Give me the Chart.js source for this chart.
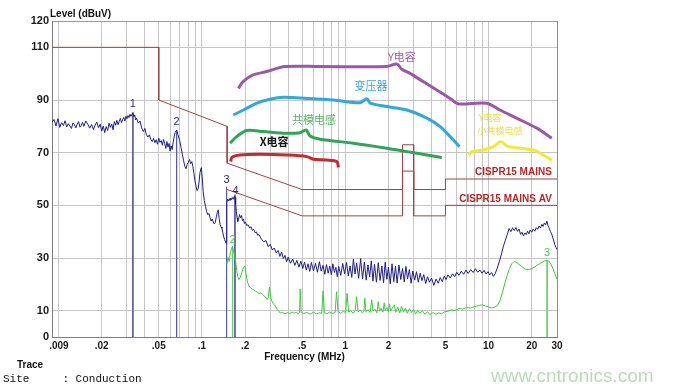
<!DOCTYPE html>
<html>
<head>
<meta charset="utf-8">
<script src="https://cdn.jsdelivr.net/npm/chart.js@4/dist/chart.umd.min.js"></script>
<style>
  html, body { margin: 0; padding: 0; background: #fff; }
</style>
</head>
<body>
<canvas id="emi" width="675" height="391"></canvas>
<script>
/* EMI conducted scan: peak / average traces, CISPR15 limits, hand-drawn notes */

// axis ticks
const gridFreqs = [0.009, 0.01, 0.02, 0.03, 0.04, 0.05, 0.06, 0.07, 0.08, 0.09,
  0.1, 0.2, 0.3, 0.4, 0.5, 0.6, 0.7, 0.8, 0.9, 1, 2, 3, 4, 5, 6, 7, 8, 9, 10, 20, 30];
const freqLabelValues = [0.009, 0.02, 0.05, 0.1, 0.2, 0.5, 1, 2, 5, 10, 20, 30];
const freqLabelTexts = ['     .009', '.02', '.05', '.1', '.2', '.5', '1', '2', '5', '10', '20', '30'];
const levelTicks = [0, 10, 30, 50, 70, 90, 110, 120];

// limit lines [MHz, dBuV]
const limitQP = [[0.009, 110], [0.05, 110], [0.05, 90], [0.15, 80], [0.15, 66], [0.5, 56],
  [2.51, 56], [2.51, 73], [3.0, 73], [3.0, 56], [5, 56], [5, 60], [30, 60]];
const limitAV = [[0.15, 56], [0.5, 46], [2.51, 46], [2.51, 63], [3.0, 63], [3.0, 46],
  [5, 46], [5, 50], [30, 50]];

// peak trace (blue)
const peakTrace = [
  [0.0090, 81.5], [0.0093, 82.6], [0.0096, 80.2], [0.0099, 82.9], [0.0102, 79.6], [0.0105, 81.4],
  [0.0108, 80.3], [0.0111, 82.1], [0.0114, 79.8], [0.0117, 81.0], [0.0120, 80.1], [0.0123, 79.2],
  [0.0126, 81.3], [0.0129, 80.6], [0.0132, 79.4], [0.0135, 80.9], [0.0138, 81.8], [0.0141, 79.7],
  [0.0144, 80.4], [0.0147, 81.5], [0.0150, 80.0], [0.0155, 82.0], [0.0160, 80.8], [0.0165, 79.3],
  [0.0170, 80.7], [0.0175, 78.8], [0.0180, 80.5], [0.0185, 81.6], [0.0190, 79.5], [0.0195, 80.8],
  [0.0200, 78.2], [0.0205, 80.1], [0.0210, 77.6], [0.0215, 79.9], [0.0220, 78.4], [0.0225, 81.2],
  [0.0230, 79.6], [0.0235, 80.9], [0.0240, 78.7], [0.0245, 81.8], [0.0250, 80.4], [0.0255, 82.3],
  [0.0260, 80.6], [0.0265, 81.9], [0.0270, 83.0], [0.0275, 81.4], [0.0280, 82.6], [0.0285, 83.4],
  [0.0290, 82.0], [0.0295, 83.8], [0.0300, 82.9], [0.0305, 84.1], [0.0310, 83.3], [0.0315, 84.6],
  [0.0320, 83.8], [0.0325, 84.5], [0.0330, 85.2], [0.0335, 83.6], [0.0340, 84.3], [0.0345, 82.4],
  [0.0350, 83.1], [0.0360, 81.2], [0.0370, 82.0], [0.0380, 79.4], [0.0390, 78.0], [0.0400, 79.2],
  [0.0410, 76.8], [0.0420, 75.9], [0.0430, 76.8], [0.0440, 75.1], [0.0450, 74.2], [0.0460, 75.4],
  [0.0470, 73.8], [0.0480, 74.9], [0.0490, 73.2], [0.0500, 75.5], [0.0510, 73.9], [0.0520, 74.6],
  [0.0530, 72.8], [0.0540, 75.0], [0.0550, 73.4], [0.0560, 71.6], [0.0570, 74.2], [0.0580, 72.1],
  [0.0590, 73.5], [0.0600, 70.6], [0.0610, 72.6], [0.0620, 71.2], [0.0630, 73.9], [0.0640, 76.0],
  [0.0650, 77.6], [0.0666, 78.6], [0.0680, 76.9], [0.0700, 74.6], [0.0715, 72.0], [0.0730, 69.4],
  [0.0745, 67.0], [0.0760, 64.8], [0.0775, 63.9], [0.0790, 65.6], [0.0805, 66.4], [0.0820, 67.4],
  [0.0835, 65.8], [0.0850, 66.6], [0.0865, 64.7], [0.0880, 62.0], [0.0895, 59.3], [0.0910, 57.2],
  [0.0925, 55.6], [0.0940, 56.2], [0.0955, 58.8], [0.0970, 62.5], [0.0990, 64.3], [0.1005, 60.8],
  [0.1020, 55.4], [0.1040, 51.8], [0.1060, 49.5], [0.1080, 47.6], [0.1100, 46.4], [0.1120, 46.9],
  [0.1140, 45.3], [0.1160, 44.0], [0.1180, 44.8], [0.1200, 43.7], [0.1220, 42.9], [0.1240, 43.5],
  [0.1260, 45.6], [0.1280, 47.2], [0.1300, 48.3], [0.1320, 45.0], [0.1340, 42.6], [0.1360, 41.8],
  [0.1380, 41.2], [0.1400, 39.6], [0.1420, 38.0], [0.1440, 37.1], [0.1460, 36.0], [0.1480, 35.6],
  [0.1490, 51.0], [0.1510, 52.3], [0.1530, 51.6], [0.1550, 52.5], [0.1570, 51.9], [0.1590, 52.8],
  [0.1610, 52.1], [0.1630, 53.0], [0.1650, 52.4], [0.1670, 53.2], [0.1690, 53.5], [0.1705, 53.0],
  [0.1720, 50.5], [0.1740, 47.6], [0.1760, 45.2], [0.1780, 43.9], [0.1800, 44.6], [0.1830, 46.5],
  [0.1860, 45.3], [0.1890, 46.1], [0.1920, 44.2], [0.1950, 44.8], [0.1980, 43.1], [0.2010, 43.7],
  [0.2050, 42.4], [0.2100, 42.6], [0.2150, 41.4], [0.2200, 41.9], [0.2250, 40.5], [0.2300, 40.9],
  [0.2350, 39.6], [0.2400, 39.9], [0.2450, 38.6], [0.2500, 38.9], [0.2600, 37.2], [0.2700, 36.2],
  [0.2800, 36.6], [0.2900, 34.3], [0.3000, 35.2], [0.3100, 33.0], [0.3200, 33.8], [0.3300, 31.9],
  [0.3400, 32.9], [0.3500, 30.6], [0.3600, 32.2], [0.3700, 29.8], [0.3800, 31.0], [0.3900, 28.6],
  [0.4000, 30.3], [0.4150, 28.0], [0.4300, 29.6], [0.4450, 27.2], [0.4600, 29.1], [0.4750, 26.5],
  [0.4900, 28.8], [0.5050, 26.0], [0.5200, 28.4], [0.5350, 25.4], [0.5500, 27.8], [0.5650, 24.9],
  [0.58, 28.3], [0.60, 25.2], [0.62, 27.9], [0.64, 24.6], [0.66, 28.6], [0.68, 25.0], [0.70, 27.2],
  [0.72, 23.8], [0.74, 27.5], [0.76, 24.2], [0.78, 26.9], [0.80, 23.6], [0.82, 27.8], [0.84, 24.5],
  [0.86, 26.4], [0.88, 22.9], [0.90, 26.8], [0.93, 23.4], [0.96, 27.9], [0.99, 24.0], [1.02, 28.3],
  [1.05, 23.2], [1.08, 27.0], [1.11, 22.6], [1.14, 29.6], [1.17, 23.9], [1.20, 28.1], [1.24, 22.3],
  [1.28, 29.8], [1.32, 22.0], [1.36, 28.5], [1.40, 21.6], [1.44, 27.4], [1.48, 22.8], [1.52, 28.9],
  [1.56, 21.2], [1.60, 27.6], [1.65, 20.8], [1.70, 28.2], [1.75, 21.5], [1.80, 27.0], [1.85, 20.6],
  [1.90, 28.4], [1.95, 21.9], [2.00, 26.5], [2.06, 20.2], [2.12, 27.8], [2.18, 21.0], [2.24, 26.9],
  [2.30, 20.5], [2.37, 27.3], [2.44, 21.8], [2.51, 26.0], [2.58, 20.9], [2.65, 26.8], [2.72, 22.0],
  [2.80, 25.6], [2.88, 20.4], [2.96, 25.1], [3.05, 21.6], [3.14, 24.8], [3.23, 20.8], [3.33, 24.2],
  [3.43, 21.4], [3.53, 23.7], [3.64, 20.3], [3.75, 22.9], [3.87, 20.8], [4.00, 22.4], [4.15, 19.6],
  [4.30, 22.0], [4.45, 20.4], [4.60, 22.6], [4.75, 21.0], [4.90, 23.1], [5.05, 21.8], [5.20, 23.6],
  [5.40, 22.4], [5.60, 24.0], [5.80, 22.9], [6.00, 24.6], [6.20, 23.4], [6.45, 25.0], [6.70, 23.8],
  [6.95, 25.4], [7.20, 24.1], [7.50, 25.6], [7.80, 24.5], [8.10, 25.9], [8.40, 24.6], [8.70, 25.4],
  [9.00, 24.2], [9.30, 25.3], [9.60, 23.9], [9.90, 24.8], [10.2, 23.6], [10.5, 24.5], [10.8, 23.0],
  [11.1, 24.0], [11.5, 26.2], [11.9, 28.8], [12.3, 31.5], [12.7, 34.6], [13.1, 36.8], [13.5, 38.9],
  [13.9, 41.2], [14.3, 40.0], [14.7, 41.5], [15.1, 40.4], [15.5, 41.6], [15.9, 40.1], [16.3, 41.0],
  [16.7, 39.0], [17.1, 39.8], [17.5, 38.4], [17.9, 39.5], [18.3, 38.9], [18.7, 40.2], [19.1, 39.2],
  [19.5, 40.6], [20.0, 39.8], [20.5, 41.0], [21.0, 40.2], [21.5, 41.5], [22.0, 40.9], [22.5, 42.1],
  [23.0, 41.4], [23.5, 42.8], [24.0, 42.0], [24.5, 43.3], [25.0, 42.6], [25.5, 44.0], [26.0, 42.2],
  [26.5, 41.3], [27.0, 40.0], [27.5, 39.2], [28.0, 37.9], [28.5, 36.4], [29.0, 35.0], [29.5, 34.0],
  [30.0, 33.2]
];

// average trace (green)
const avgTrace = [
  [0.1490, 27.5], [0.1520, 30.2], [0.1550, 28.6], [0.1580, 32.0], [0.1610, 33.6], [0.1636, 34.4],
  [0.1660, 32.8], [0.1690, 30.9], [0.1720, 28.6], [0.1750, 25.2], [0.1780, 22.9], [0.1810, 21.8],
  [0.1850, 22.6], [0.1900, 24.5], [0.1950, 26.4], [0.1990, 27.0], [0.2030, 24.2], [0.2080, 20.8],
  [0.2130, 19.4], [0.2180, 18.8], [0.2240, 18.2], [0.2300, 17.9], [0.2370, 17.4], [0.2440, 17.0],
  [0.2510, 16.4], [0.2580, 16.8], [0.2650, 16.1], [0.2720, 15.6], [0.2800, 14.8], [0.2850, 14.2],
  [0.2900, 15.0], [0.2960, 19.0], [0.3020, 15.2], [0.3080, 13.5], [0.3150, 12.6], [0.3250, 11.8],
  [0.3350, 10.4], [0.3450, 9.6], [0.3550, 9.1], [0.3650, 9.4], [0.3800, 8.8], [0.3950, 9.3],
  [0.4100, 8.9], [0.4250, 9.5], [0.4400, 9.0], [0.4550, 9.4], [0.4700, 8.8], [0.4800, 9.2],
  [0.4850, 18.3], [0.4920, 9.4], [0.5100, 8.9], [0.5400, 9.3], [0.5700, 8.7], [0.6000, 9.4],
  [0.6300, 8.8], [0.6600, 9.2], [0.6850, 9.0], [0.7000, 17.5], [0.7150, 9.3], [0.7450, 8.8],
  [0.7800, 9.5], [0.8150, 8.9], [0.8500, 9.3], [0.8700, 17.2], [0.8900, 9.6], [0.9300, 9.0],
  [0.9700, 9.8], [1.0050, 9.2], [1.0300, 16.6], [1.0550, 9.4], [1.0900, 10.0], [1.1300, 9.1],
  [1.1700, 9.8], [1.2000, 15.3], [1.2300, 9.5], [1.2700, 10.3], [1.3100, 9.2], [1.3500, 10.0],
  [1.3700, 14.7], [1.3950, 9.6], [1.4400, 10.4], [1.4900, 9.3], [1.5300, 14.1], [1.5600, 9.9],
  [1.6100, 10.6], [1.6600, 9.2], [1.7000, 13.4], [1.7300, 9.8], [1.7800, 10.9], [1.8300, 9.4],
  [1.8700, 13.0], [1.9000, 10.1], [1.9500, 11.2], [2.0000, 9.5], [2.0400, 12.6], [2.0700, 9.9],
  [2.1300, 11.0], [2.2000, 12.2], [2.2500, 9.4], [2.3200, 11.4], [2.4000, 9.1], [2.4700, 11.6],
  [2.5500, 9.6], [2.6300, 11.0], [2.7100, 9.0], [2.8000, 10.7], [2.9000, 9.3], [3.0000, 10.4],
  [3.1000, 8.8], [3.2000, 10.1], [3.3000, 9.0], [3.4500, 9.9], [3.6000, 8.6], [3.7500, 9.6],
  [3.9000, 8.5], [4.1000, 9.3], [4.3000, 8.6], [4.5000, 9.2], [4.7000, 8.8], [4.9000, 9.5],
  [5.2, 9.8], [5.5, 10.3], [5.8, 10.0], [6.2, 10.8], [6.6, 10.6], [7.0, 11.2], [7.5, 11.0],
  [8.0, 11.6], [8.5, 11.9], [9.0, 12.2], [9.5, 11.8], [10.0, 11.4], [10.5, 11.0], [11.0, 11.3],
  [11.5, 11.9], [12.0, 13.8], [12.5, 17.0], [13.0, 20.5], [13.5, 23.6], [14.0, 26.0], [14.5, 27.8],
  [15.0, 28.6], [15.5, 28.5], [16.0, 27.9], [17.0, 26.8], [18.0, 25.8], [19.0, 25.6], [20.0, 26.0],
  [21.0, 26.6], [22.0, 27.4], [23.0, 28.0], [24.0, 28.6], [25.0, 29.1], [26.0, 29.0], [27.0, 28.0],
  [28.0, 26.2], [29.0, 24.0], [30.0, 22.0]
];

// marker peaks [MHz, dBuV]
const peakMarkers = [[0.033, 85.2], [0.0666, 78.6], [0.1486, 57.0], [0.170, 54.0]];
const avgMarkers = [[0.1636, 34.4], [25.6, 29.2]];

// hand-drawn component curves
const yCapCurve = [[0.1796, 94.4], [0.1937, 97.0], [0.2274, 99.5], [0.2835, 100.8], [0.3804, 102.7],
  [0.667, 102.7], [1.95, 102.7], [2.29, 103.7], [2.48, 101.7], [2.83, 100.1], [3.49, 97.0],
  [4.35, 93.8], [5.39, 90.6], [6.1, 88.6], [9.72, 88.8], [12.0, 86.2], [15.7, 83.1], [21.7, 79.3],
  [27.6, 75.5]];
const transformerCurve = [[0.1657, 84.3], [0.1947, 86.2], [0.2415, 88.8], [0.299, 90.3], [0.370, 91.0],
  [0.539, 90.6], [0.826, 90.0], [1.27, 89.0], [1.413, 90.5], [1.49, 88.8], [1.95, 87.5],
  [2.69, 86.2], [3.71, 83.1], [4.59, 79.9], [5.68, 74.8], [6.26, 72.3]];
const chokeCurve = [[0.1572, 73.6], [0.175, 76.1], [0.2056, 78.4], [0.268, 78.0], [0.391, 77.4],
  [0.484, 77.6], [0.533, 78.6], [0.568, 76.3], [0.667, 75.1], [1.14, 73.6], [1.95, 71.7],
  [2.69, 70.4], [3.71, 69.1], [4.72, 68.2]];
const xCapCurve = [[0.159, 66.6], [0.1615, 68.2], [0.1846, 69.1], [0.2545, 69.4], [0.391, 69.1],
  [0.539, 68.5], [0.599, 67.5], [0.743, 67.2], [0.873, 66.6], [0.896, 64.4]];
const smallChokeCurve = [[7.24, 69.1], [7.64, 70.4], [9.2, 71.0], [10.8, 72.3], [12.2, 74.2],
  [13.4, 72.5], [16.6, 71.7], [20.6, 71.0], [22.9, 69.8], [27.6, 67.2]];

// text notes anchored in data units
const notes = [
  { text: 'Y电容', f: 2.48, level: 106.3, color: '#9a62ad', kind: 'cjk' },
  { text: '变压器', f: 1.51, level: 95.3, color: '#3ba3d6', kind: 'cjk' },
  { text: '共模电感', f: 0.606, level: 82.4, color: '#5cb46a', kind: 'cjk' },
  { text: 'X电容', f: 0.319, level: 74.1, color: '#111', kind: 'cjkBold' },
  { text: 'Y电容', f: 10.25, level: 83.2, color: '#e6e04a', kind: 'cjkSmall' },
  { text: '小共模电感', f: 12.0, level: 78.2, color: '#e6e04a', kind: 'cjkSmall' },
  { text: 'CISPR15 MAINS', f: 27.6, level: 62.7, color: '#b42828', kind: 'limit' },
  { text: 'CISPR15 MAINS AV', f: 27.6, level: 52.4, color: '#b42828', kind: 'limit' },
  { text: '1', f: 0.033, level: 88.5, color: '#2a2a80', kind: 'marker' },
  { text: '2', f: 0.0666, level: 81.7, color: '#2a2a80', kind: 'marker' },
  { text: '3', f: 0.1486, level: 59.6, color: '#2a2a80', kind: 'marker' },
  { text: '4', f: 0.172, level: 55.4, color: '#2a2a80', kind: 'marker' },
  { text: '2', f: 0.1636, level: 36.8, color: '#55c455', kind: 'marker' },
  { text: '3', f: 25.6, level: 31.9, color: '#55c455', kind: 'marker' }
];

const noteFonts = {
  cjk: '11px "Noto Sans CJK SC"',
  cjkBold: 'bold 11px "Noto Sans CJK SC"',
  cjkSmall: '9px "Noto Sans CJK SC"',
  limit: 'bold 10px "Liberation Sans"',
  marker: '11px "Liberation Sans"'
};

const toXY = pairs => pairs.map(([x, y]) => ({ x, y }));

// vertical marker lines from the peak down to the axis, separated by gaps
function markerLines(list) {
  const out = [];
  list.forEach(([f, v]) => { out.push({ x: f, y: v }, { x: f, y: 0 }, { x: f, y: null }); });
  return out;
}

function lineSet(data, color, width, order, extra) {
  return Object.assign({
    data, borderColor: color, borderWidth: width, pointRadius: 0,
    fill: false, tension: 0, spanGaps: false, order
  }, extra || {});
}

const textPlugin = {
  id: 'emiText',
  afterDatasetsDraw(chart) {
    const { ctx, scales: { x, y } } = chart;
    ctx.save();
    ctx.textBaseline = 'middle';
    notes.forEach(n => {
      ctx.font = noteFonts[n.kind];
      ctx.fillStyle = n.color;
      ctx.textAlign = n.kind === 'limit' ? 'right' : 'center';
      ctx.fillText(n.text, x.getPixelForValue(n.f), y.getPixelForValue(n.level));
    });
    ctx.restore();
  },
  afterDraw(chart) {
    const { ctx, chartArea } = chart;
    ctx.save();
    ctx.textBaseline = 'middle';
    ctx.fillStyle = '#111';
    ctx.textAlign = 'left';
    ctx.font = 'bold 10px "Liberation Sans"';
    ctx.fillText('Level (dBuV)', chartArea.left - 2, 14);
    ctx.textAlign = 'center';
    ctx.fillText('Frequency (MHz)', (chartArea.left + chartArea.right) / 2, 357);
    ctx.textAlign = 'left';
    ctx.fillText('Trace', 17, 365);
    ctx.font = '11px "Liberation Mono"';
    ctx.fillText('Site     : Conduction', 3, 379);
    ctx.font = '19px "Liberation Sans"';
    ctx.fillStyle = '#b9dcb5';
    ctx.fillText('www.cntronics.com', 491, 377);
    ctx.restore();
  }
};

new Chart(document.getElementById('emi'), {
  type: 'line',
  data: {
    datasets: [
      lineSet(toXY(yCapCurve), '#9a58a8', 3, 1, { tension: 0.3 }),
      lineSet(toXY(transformerCurve), '#2fa8dc', 3, 1, { tension: 0.3 }),
      lineSet(toXY(chokeCurve), '#2fa55a', 3, 1, { tension: 0.3 }),
      lineSet(toXY(xCapCurve), '#c42a2e', 3, 1, { tension: 0.3 }),
      lineSet(toXY(smallChokeCurve), '#f0ea32', 3, 1, { tension: 0.3 }),
      lineSet(toXY(limitQP), '#9c4444', 1, 2),
      lineSet(toXY(limitAV), '#9c4444', 1, 2),
      lineSet(toXY(peakTrace), '#1e1e8c', 1, 3),
      lineSet(toXY(avgTrace), '#3fc83f', 1, 4),
      lineSet(markerLines(peakMarkers), '#5a5aa6', 1, 5),
      lineSet(markerLines(avgMarkers), '#6ccf6c', 1, 5)
    ]
  },
  options: {
    responsive: false,
    animation: false,
    devicePixelRatio: 1,
    layout: { padding: { top: 21, right: 118, left: 0, bottom: 0 } },
    plugins: { legend: { display: false }, tooltip: { enabled: false } },
    scales: {
      x: {
        type: 'logarithmic',
        min: 0.009,
        max: 30,
        afterBuildTicks: s => { s.ticks = gridFreqs.map(v => ({ value: v })); },
        afterFit: s => { s.height = 54; },
        border: { color: '#7c7c7c' },
        grid: {
          drawTicks: false,
          color: c => (c.tick && c.tick.value === 30 ? '#8c8c8c' : '#c6c6c6')
        },
        ticks: {
          autoSkip: false,
          maxRotation: 0,
          padding: 3,
          color: '#1a1a1a',
          font: { family: 'Liberation Sans', size: 10, weight: 'bold' },
          callback: value => {
            const i = freqLabelValues.findIndex(v => Math.abs(v - value) < 1e-9);
            return i >= 0 ? freqLabelTexts[i] : '';
          }
        }
      },
      y: {
        min: 0,
        max: 120,
        afterBuildTicks: s => { s.ticks = levelTicks.map(v => ({ value: v })); },
        afterFit: s => { s.width = 52; },
        border: { color: '#7c7c7c' },
        grid: {
          drawTicks: false,
          color: c => (c.tick && c.tick.value === 120 ? '#9a9a9a' : '#c6c6c6')
        },
        ticks: {
          padding: 3,
          color: '#1a1a1a',
          font: { family: 'Liberation Sans', size: 11, weight: 'bold' }
        }
      }
    }
  },
  plugins: [textPlugin]
});
</script>
</body>
</html>
